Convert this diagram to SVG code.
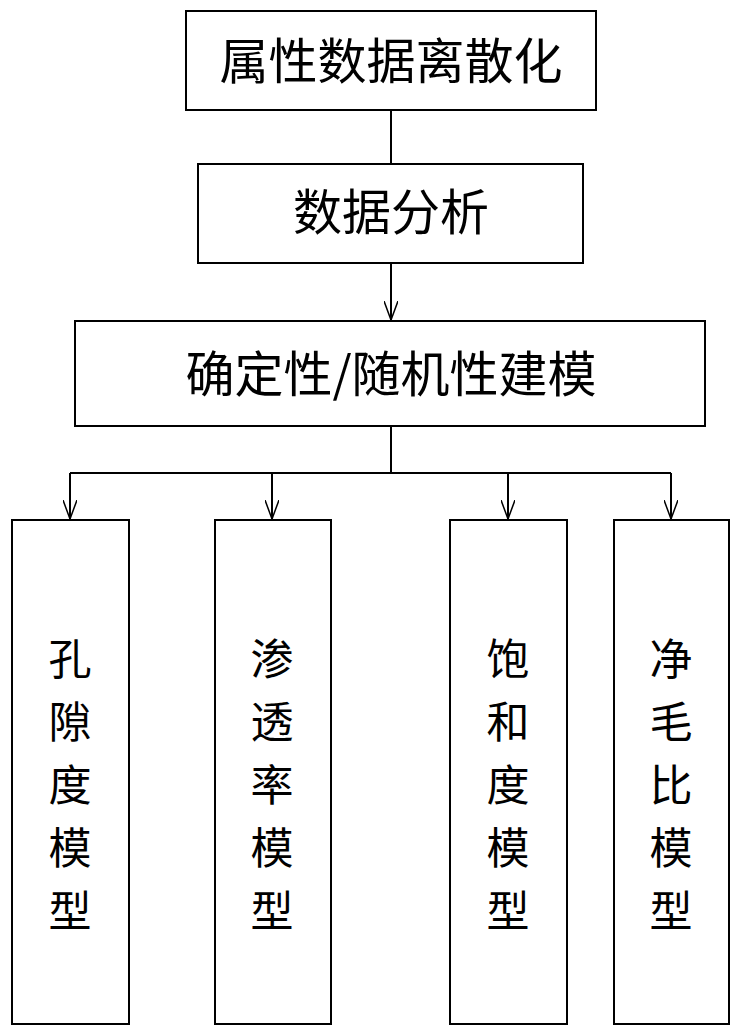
<svg xmlns="http://www.w3.org/2000/svg" width="736" height="1031" viewBox="0 0 736 1031">
<style>
.b{fill:#fff;stroke:#000;stroke-width:2}
text{font-family:"Noto Sans CJK SC","Noto Sans",sans-serif;font-size:49px;fill:#000;text-anchor:middle}
.v{font-size:43px}
.c{stroke:#000;stroke-width:2;fill:none}
</style>
<defs><marker id="a" markerWidth="20" markerHeight="14" refX="19" refY="7" orient="auto" markerUnits="userSpaceOnUse" viewBox="0 0 20 14"><path d="M0,0 L19,7 L0,14" fill="none" stroke="#000" stroke-width="1.5"/></marker></defs>
<rect width="736" height="1031" fill="#fff"/>
<g id="connectors">
<path class="c" d="M391,110V164"/>
<path class="c" d="M391,263V320" marker-end="url(#a)"/>
<path class="c" d="M391,426V473M70,473H671"/>
<path class="c" d="M70,473V519" marker-end="url(#a)"/>
<path class="c" d="M272,473V519" marker-end="url(#a)"/>
<path class="c" d="M508,473V519" marker-end="url(#a)"/>
<path class="c" d="M671,473V519" marker-end="url(#a)"/>
</g>
<g id="n1"><rect class="b" x="186" y="11" width="410" height="99"/><text x="391" y="79">属性数据离散化</text></g>
<g id="n2"><rect class="b" x="198" y="164" width="385" height="99"/><text x="391" y="230">数据分析</text></g>
<g id="n3"><rect class="b" x="75" y="321" width="630" height="105"/><text x="391" y="392">确定性/随机性建模</text></g>
<g id="n4"><rect class="b" x="12" y="520" width="117" height="504"/><text class="v" x="70" y="675">孔</text><text class="v" x="70" y="738">隙</text><text class="v" x="70" y="801">度</text><text class="v" x="70" y="864">模</text><text class="v" x="70" y="927">型</text></g>
<g id="n5"><rect class="b" x="215" y="520" width="116" height="504"/><text class="v" x="272" y="675">渗</text><text class="v" x="272" y="738">透</text><text class="v" x="272" y="801">率</text><text class="v" x="272" y="864">模</text><text class="v" x="272" y="927">型</text></g>
<g id="n6"><rect class="b" x="450" y="520" width="117" height="504"/><text class="v" x="508" y="675">饱</text><text class="v" x="508" y="738">和</text><text class="v" x="508" y="801">度</text><text class="v" x="508" y="864">模</text><text class="v" x="508" y="927">型</text></g>
<g id="n7"><rect class="b" x="614" y="520" width="115" height="504"/><text class="v" x="671" y="675">净</text><text class="v" x="671" y="738">毛</text><text class="v" x="671" y="801">比</text><text class="v" x="671" y="864">模</text><text class="v" x="671" y="927">型</text></g>
</svg>
